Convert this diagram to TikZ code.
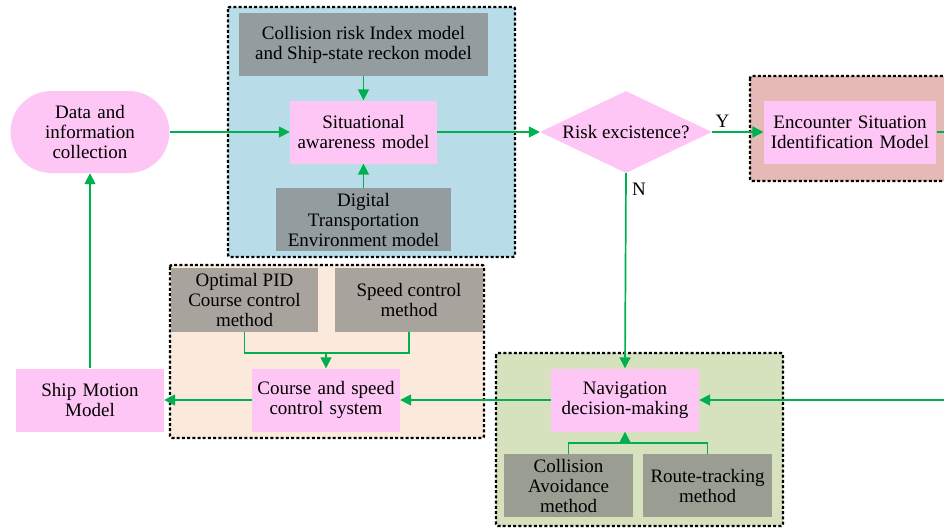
\documentclass[tikz,border=0pt]{standalone}
\usepackage{fontspec}
\setmainfont{Liberation Serif}
\usetikzlibrary{arrows.meta,shapes.geometric}

\definecolor{boxpink}{HTML}{FDC6F5}
\definecolor{grpblue}{HTML}{B8DDE8}
\definecolor{grpred}{HTML}{E5B9B5}
\definecolor{grporange}{HTML}{FBE9DC}
\definecolor{grpgreen}{HTML}{D6E1BE}
\definecolor{grayblue}{HTML}{939C9F}
\definecolor{grayorange}{HTML}{A8A39D}
\definecolor{graygreen}{HTML}{999D92}
\definecolor{flowgreen}{HTML}{00B050}

\tikzset{
    model/.style={fill=boxpink, minimum width=148pt, minimum height=63pt, text width=140pt, align=center},
    method/.style={minimum height=63pt, align=center},
    group/.style={draw=black, line width=2.4pt, dash pattern=on 3pt off 2.2pt, rounded corners=2pt},
    flow/.style={draw=flowgreen, line width=1.7pt},
    tip/.style={-{Triangle[length=11pt,width=11pt]}}
}

\begin{document}
\begin{tikzpicture}[x=1pt, y=-1pt, font=\fontsize{19}{20}\selectfont]
        \useasboundingbox (0, 0) rectangle (944, 528);
        \clip (0, 0) rectangle (944, 528);

        % dotted groups
        \draw[group, fill=grpblue] (228, 7) rectangle (515, 257);
        \draw[group, fill=grpred] (750, 76) rectangle (970, 181);
        \draw[group, fill=grporange] (170, 265) rectangle (484, 438);
        \draw[group, fill=grpgreen] (496, 353) rectangle (783, 526);

        % nodes
        \node[fill=boxpink, rounded corners=41pt, minimum width=159pt, minimum height=82pt, text width=140pt, align=center] (data) at (90, 132) {Data and\\information\\collection};
        \node[method, fill=grayblue, minimum width=249pt] (crim) at (363.5, 44.5) {Collision risk Index model\\and Ship-state reckon model};
        \node[model, minimum width=147pt] (sam) at (363.5, 132) {Situational\\awareness model};
        \node[method, fill=grayblue, minimum width=175pt] (dtem) at (363.5, 219.5) {Digital\\Transportation\\Environment model};
        \node[diamond, fill=boxpink, inner sep=0pt, aspect=2.1, minimum width=172pt, minimum height=82pt] (risk) at (626, 132) {Risk excistence?};
        \node[model, minimum width=170pt, text width=166pt] (esim) at (850, 132) {Encounter Situation\\Identification Model};
        \node[model] (ndm) at (625, 400) {Navigation\\decision-making};
        \node[method, fill=graygreen, minimum width=129pt] (cam) at (568.5, 485.5) {Collision\\Avoidance\\method};
        \node[method, fill=graygreen, minimum width=129pt] (rtm) at (707.5, 485.5) {Route-tracking\\method};
        \node[method, fill=grayorange, minimum width=147pt, minimum height=64pt] (pid) at (244.5, 300) {Optimal PID\\Course control\\method};
        \node[method, fill=grayorange, minimum width=148pt, minimum height=64pt] (scm) at (409, 300) {Speed control\\method};
        \node[model] (csc) at (326, 400) {Course and speed\\control system};
        \node[model] (smm) at (90, 400) {Ship Motion\\Model};

        \coordinate (outE) at (960, 132);
        \coordinate (inE) at (960, 400);
        \coordinate (jc) at (326, 353);
        \coordinate (jn) at (625, 443);

        % connectors
        \draw[flow, tip] (data.east) -- (sam.west);
        \draw[flow, tip] (crim.south) -- (sam.north);
        \draw[flow, tip] (dtem.north) -- (sam.south);
        \draw[flow, tip] (sam.east) -- (risk.west);
        \draw[flow, tip] (risk.east) -- node[pos=0.2, above] (yes) {Y} (esim.west);
        \draw[flow] (esim.east) -- (outE);
        \draw[flow, tip] (risk.south) -- node[pos=0.08, right, xshift=2pt] (no) {N} (ndm.north);
        \draw[flow, tip] (inE) -- (ndm.east);
        \draw[flow] (cam.north) |- (jn) -| (rtm.north);
        \draw[flow, tip] (jn) -- (ndm.south);
        \draw[flow, tip] (ndm.west) -- (csc.east);
        \draw[flow] (pid.south) |- (jc) -| (scm.south);
        \draw[flow, tip] (jc) -- (csc.north);
        \draw[flow, tip] (csc.west) -- (smm.east);
        \draw[flow, tip] (smm.north) -- (data.south);
    \end{tikzpicture}
\end{document}
